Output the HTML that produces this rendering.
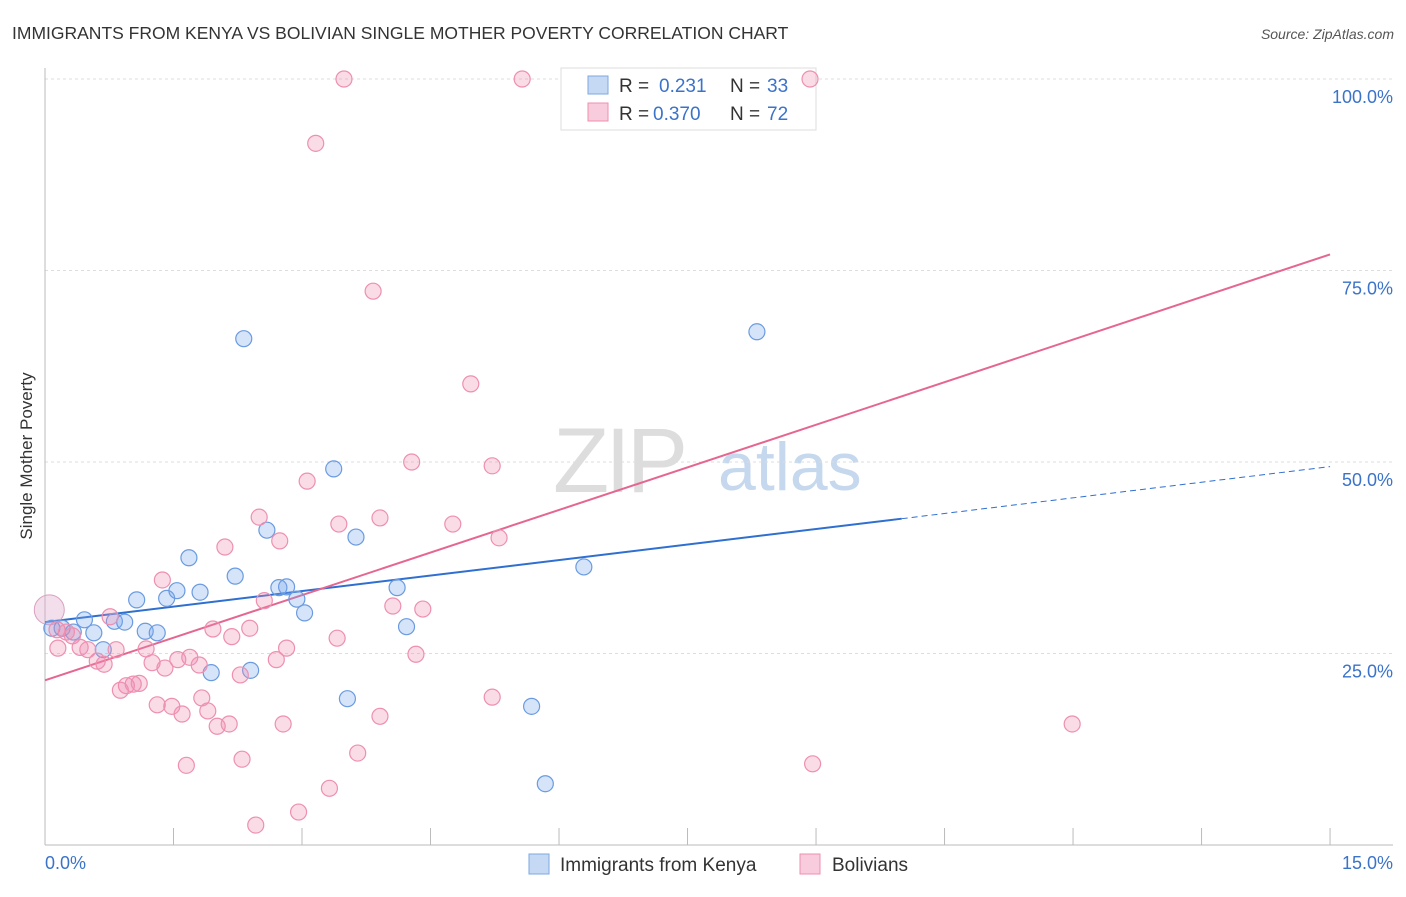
<!DOCTYPE html>
<html><head><meta charset="utf-8"><style>
body{margin:0;background:#fff;font-family:"Liberation Sans",sans-serif;}
svg text{font-family:"Liberation Sans",sans-serif;}
</style></head><body>
<svg id="chart" width="1406" height="892">
<text x="12" y="39" font-size="17.5" fill="#333">IMMIGRANTS FROM KENYA VS BOLIVIAN SINGLE MOTHER POVERTY CORRELATION CHART</text>
<text x="1394" y="39" font-size="14" fill="#555" text-anchor="end" font-style="italic">Source: ZipAtlas.com</text>
<text x="32" y="456" font-size="17" fill="#333" text-anchor="middle" transform="rotate(-90 32 456)">Single Mother Poverty</text>
<g><text x="553" y="492" font-size="92" fill="#ddd" font-family="Liberation Serif" letter-spacing="-4">ZIP</text><text x="718" y="490" font-size="68" fill="#c5d8ee">atlas</text></g>
<g id="grid"></g><g id="axes"></g><g id="trends"></g>
<g>
<rect x="561" y="68" width="255" height="62" fill="#fff" stroke="#ddd"/>
<rect x="588" y="76" width="20" height="18" fill="#c5d9f5" stroke="#7da7e0"/>
<text x="619" y="92" font-size="19" fill="#333">R = </text><text x="659" y="92" font-size="19" fill="#3a73c9">0.231</text>
<text x="730" y="92" font-size="19" fill="#333">N = </text><text x="767" y="92" font-size="19" fill="#3a73c9">33</text>
<rect x="588" y="103" width="20" height="18" fill="#f8ccdc" stroke="#ee8fb0"/>
<text x="619" y="120" font-size="19" fill="#333">R = </text><text x="653" y="120" font-size="19" fill="#3a73c9">0.370</text>
<text x="730" y="120" font-size="19" fill="#333">N = </text><text x="767" y="120" font-size="19" fill="#3a73c9">72</text>
</g>
<g id="pts"></g>
<g>
<rect x="529" y="854" width="20" height="20" fill="#c5d9f5" stroke="#7da7e0"/>
<text x="560" y="871" font-size="19" fill="#333">Immigrants from Kenya</text>
<rect x="800" y="854" width="20" height="20" fill="#f8ccdc" stroke="#ee8fb0"/>
<text x="832" y="871" font-size="19" fill="#333">Bolivians</text>
</g>
</svg>
<script>
const yTicks=[25,50,75,100];
const yTickLabels=["25.0%","50.0%","75.0%","100.0%"];
const xTicks=[0,1.5,3,4.5,6,7.5,9,10.5,12,13.5,15];
const kenyaX=[0.08,0.20,0.33,0.46,0.57,0.68,0.81,0.93,1.07,1.17,1.31,1.42,1.54,1.68,1.81,1.94,2.22,2.32,2.40,2.59,2.73,2.82,2.94,3.03,3.37,3.63,3.53,4.11,4.22,5.68,5.84,6.29,8.31];
const kenyaY=[28.3,28.3,27.8,29.4,27.7,25.5,29.2,29.1,32.0,27.9,27.7,32.2,33.2,37.5,33.0,22.5,35.1,66.1,22.8,41.1,33.6,33.7,32.1,30.3,49.1,40.2,19.1,33.6,28.5,18.1,8.0,36.3,67.0];
const bolX=[3.49,5.57,8.93,3.16,3.83,4.97,4.28,5.22,3.06,2.50,3.43,3.91,4.76,2.10,2.74,5.30,1.37,0.76,2.56,4.06,4.41,0.14,0.25,0.32,0.15,0.41,0.50,0.61,0.69,0.83,1.18,1.25,1.40,1.55,1.69,1.80,1.96,2.18,2.39,2.82,3.41,4.33,2.70,2.28,0.95,1.03,0.88,1.10,1.31,1.48,1.60,1.83,1.90,2.01,2.15,2.78,3.91,5.22,3.65,1.65,2.30,3.32,2.96,2.46,11.99,8.96];
const bolY=[100,100,100,91.6,72.3,60.2,50.0,49.5,47.5,42.8,41.9,42.7,41.9,38.9,39.7,40.1,34.6,29.8,31.9,31.2,30.8,28.1,27.8,27.3,25.7,25.8,25.5,24.0,23.6,25.5,25.6,23.8,23.1,24.2,24.5,23.5,28.2,27.2,28.3,25.7,27.0,24.9,24.2,22.2,20.8,21.0,20.2,21.1,18.3,18.1,17.1,19.2,17.5,15.5,15.8,15.8,16.8,19.3,12.0,10.4,11.2,7.4,4.3,2.6,15.8,10.6];
const kenyaTrend=[29.1,42.6,49.4]; // at x=0,10,15
const bolTrend=[21.5,77.1]; // at x=0,15
const NS="http://www.w3.org/2000/svg";
const sx=v=>45+v*85.67, sy=v=>845-v*7.66;
function mk(tag,attrs,parent){const e=document.createElementNS(NS,tag);for(const k in attrs)e.setAttribute(k,attrs[k]);document.getElementById(parent).appendChild(e);return e;}
yTicks.forEach((t,i)=>{
 const l=mk('line',{x1:45,x2:1393,y1:sy(t),y2:sy(t),stroke:'#ddd','stroke-dasharray':'3,3'},'grid');
 
 
 const tx=mk('text',{x:1393,y:sy(t)+24,'font-size':18,fill:'#3a73c9','text-anchor':'end'},'grid');
 tx.textContent=yTickLabels[i];
 
 
});
mk('line',{x1:45,x2:45,y1:68,y2:845,stroke:'#bbb'},'axes');
mk('line',{x1:45,x2:1393,y1:845,y2:845,stroke:'#bbb'},'axes');
xTicks.forEach(t=>{const l=mk('line',{x1:sx(t),x2:sx(t),y1:828,y2:845,stroke:'#bbb'},'axes');
 
 });
let a=mk('text',{x:45,y:869,'font-size':18,fill:'#3a73c9'},'axes');a.textContent='0.0%';


a=mk('text',{x:1393,y:869,'font-size':18,fill:'#3a73c9','text-anchor':'end'},'axes');a.textContent='15.0%';


let tl=mk('line',{x1:sx(0),y1:sy(kenyaTrend[0]),x2:sx(10),y2:sy(kenyaTrend[1]),stroke:'#2f6fd0','stroke-width':2},'trends');


tl=mk('line',{x1:sx(10),y1:sy(kenyaTrend[1]),x2:sx(15),y2:sy(kenyaTrend[2]),stroke:'#2f6fd0','stroke-width':1,'stroke-dasharray':'6,4'},'trends');


tl=mk('line',{x1:sx(0),y1:sy(bolTrend[0]),x2:sx(15),y2:sy(bolTrend[1]),stroke:'#e5668f','stroke-width':2},'trends');


const big=mk('circle',{cx:sx(0.05),cy:sy(30.7),r:15,fill:'rgba(220,160,200,0.35)',stroke:'#d9a0c0'},'pts');


kenyaX.forEach((x,i)=>{const c=mk('circle',{cx:sx(x),cy:sy(kenyaY[i]),r:8,fill:'rgba(120,165,235,0.3)',stroke:'#6a9be0','stroke-width':1.2},'pts');
 
 });
bolX.forEach((x,i)=>{const c=mk('circle',{cx:sx(x),cy:sy(bolY[i]),r:8,fill:'rgba(240,140,175,0.3)',stroke:'#ee8fb0','stroke-width':1.2},'pts');
 
 });
</script>
</body></html>
